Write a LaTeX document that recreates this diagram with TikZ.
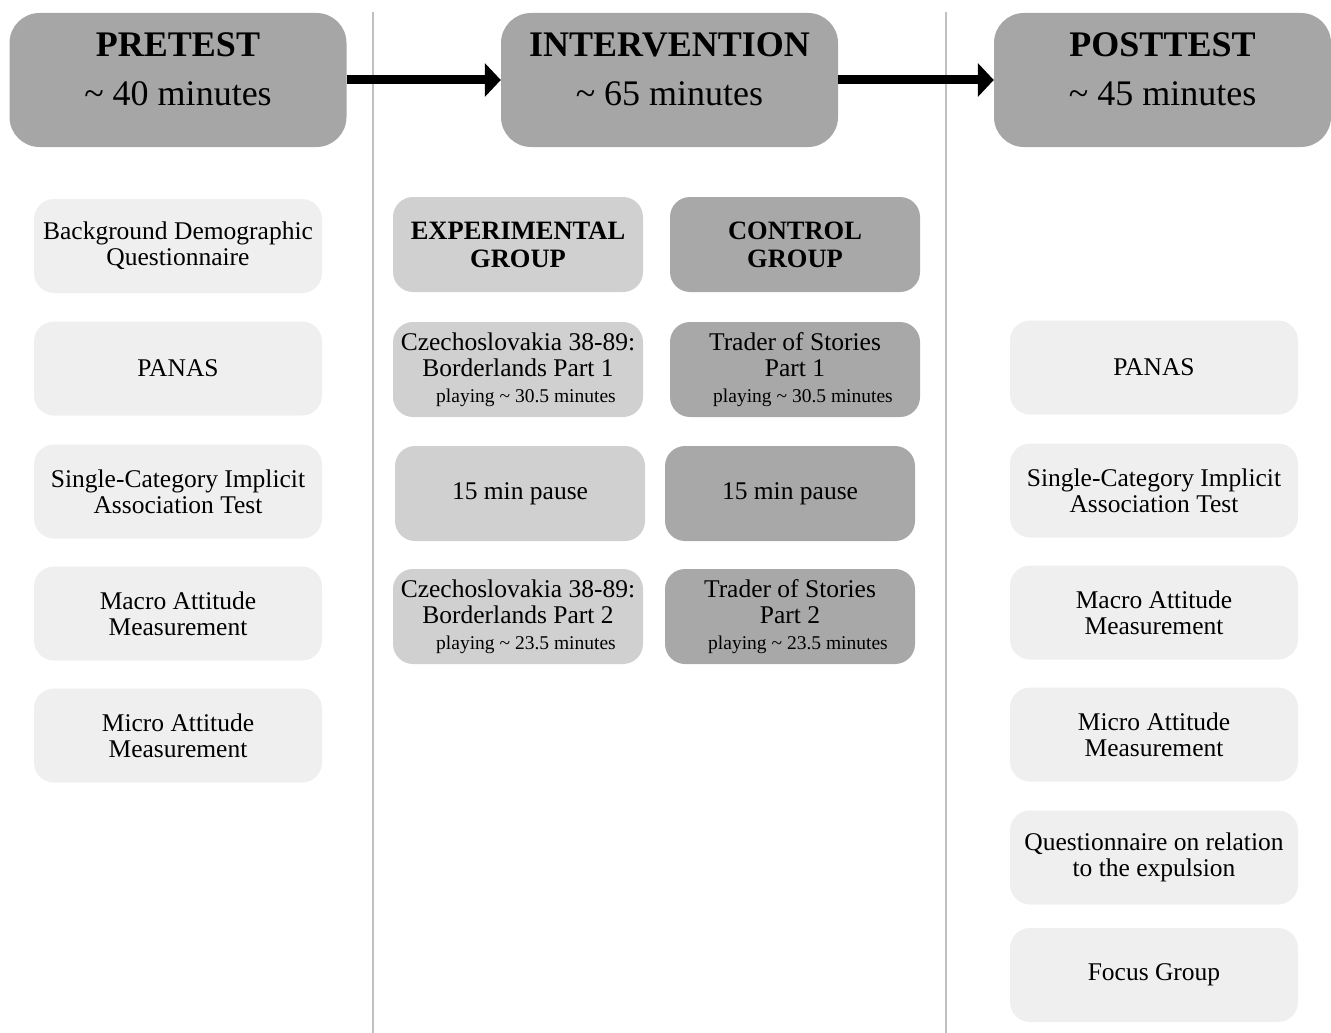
\documentclass[tikz,border=0pt]{standalone}
\usepackage{fontspec}
\setmainfont{Liberation Serif}
\usetikzlibrary{arrows.meta}
\definecolor{phasegray}{HTML}{A6A6A6}
\definecolor{taskgray}{HTML}{EFEFEF}
\definecolor{expgray}{HTML}{D0D0D0}
\definecolor{ctrlgray}{HTML}{A8A8A8}
\definecolor{dividergray}{HTML}{C0C0C0}
\tikzset{
  phase/.style     = {rectangle, rounded corners=30pt, fill=phasegray, minimum width=337pt, minimum height=134pt, inner sep=0pt, align=center, font=\fontsize{36}{49}\selectfont},
  task/.style      = {rectangle, rounded corners=20pt, fill=taskgray, minimum width=288pt, minimum height=94pt, inner sep=0pt, align=center, font=\fontsize{25.5}{26}\selectfont},
  expbox/.style    = {task, fill=expgray, minimum width=250pt, minimum height=95pt},
  ctrlbox/.style   = {expbox, fill=ctrlgray},
  grouphead/.style = {font=\fontsize{26.5}{28}\selectfont\bfseries},
  flow/.style      = {-{Triangle[length=16pt, width=33pt]}, line width=9pt},
  divider/.style   = {draw=dividergray, line width=2pt},
}
\begin{document}
\begin{tikzpicture}[x=1pt, y=-1pt]
    \useasboundingbox (0,0) rectangle (1331,1033);

    % column dividers
    \draw[divider] (373,12) -- (373,1033);
    \draw[divider] (946,12) -- (946,1033);

    % phases
    \node[phase] (pre)  at (178,80)    {\textbf{PRETEST}\\\textasciitilde{} 40 minutes\\[-28pt]\mbox{}};
    \node[phase] (int)  at (669.5,80)  {\textbf{INTERVENTION}\\\textasciitilde{} 65 minutes\\[-28pt]\mbox{}};
    \node[phase] (post) at (1162.5,80) {\textbf{POSTTEST}\\\textasciitilde{} 45 minutes\\[-28pt]\mbox{}};

    % edges: phase order
    \draw[flow] (pre) -- (int);
    \draw[flow] (int) -- (post);

    % pretest measures
    \node[task] (prebg)    at (178,246)   {Background Demographic\\Questionnaire};
    \node[task] (prepanas) at (178,368.5) {PANAS};
    \node[task] (preiat)   at (178,491.5) {Single-Category Implicit\\Association Test};
    \node[task] (premacro) at (178,613.5) {Macro Attitude\\Measurement};
    \node[task] (premicro) at (178,735.5) {Micro Attitude\\Measurement};

    % experimental group
    \node[expbox, grouphead] (exphead)  at (518,244.5) {EXPERIMENTAL\\GROUP};
    \node[expbox] (expgame1) at (518,369.5) {Czechoslovakia 38-89:\\Borderlands Part 1\\{\fontsize{19.5}{22}\selectfont\hspace*{16pt}playing \textasciitilde{} 30.5 minutes}};
    \node[expbox] (exppause) at (520,493.5) {15 min pause};
    \node[expbox] (expgame2) at (518,616.5) {Czechoslovakia 38-89:\\Borderlands Part 2\\{\fontsize{19.5}{22}\selectfont\hspace*{16pt}playing \textasciitilde{} 23.5 minutes}};

    % control group
    \node[ctrlbox, grouphead] (ctrlhead)  at (795,244.5) {CONTROL\\GROUP};
    \node[ctrlbox] (ctrlgame1) at (795,369.5) {Trader of Stories\\Part 1\\{\fontsize{19.5}{22}\selectfont\hspace*{16pt}playing \textasciitilde{} 30.5 minutes}};
    \node[ctrlbox] (ctrlpause) at (790,493.5) {15 min pause};
    \node[ctrlbox] (ctrlgame2) at (790,616.5) {Trader of Stories\\Part 2\\{\fontsize{19.5}{22}\selectfont\hspace*{16pt}playing \textasciitilde{} 23.5 minutes}};

    % posttest measures
    \node[task] (postpanas) at (1154,367.5) {PANAS};
    \node[task] (postiat)   at (1154,490.5) {Single-Category Implicit\\Association Test};
    \node[task] (postmacro) at (1154,612.5) {Macro Attitude\\Measurement};
    \node[task] (postmicro) at (1154,734.5) {Micro Attitude\\Measurement};
    \node[task] (postquest) at (1154,857.5) {Questionnaire on relation\\to the expulsion};
    \node[task] (postfocus) at (1154,975)   {Focus Group};
  \end{tikzpicture}
\end{document}
